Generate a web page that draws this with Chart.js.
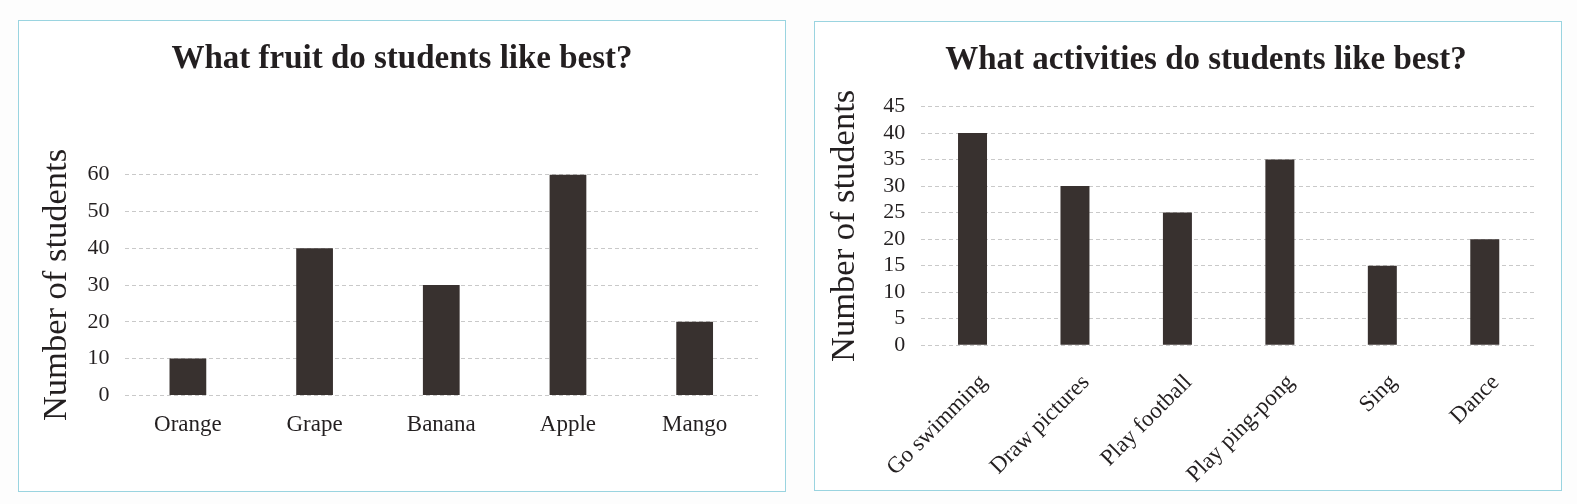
<!DOCTYPE html>
<html>
<head>
<meta charset="utf-8">
<script src="https://cdn.jsdelivr.net/npm/chart.js@4/dist/chart.umd.min.js"></script>
<style>
  html, body { margin: 0; padding: 0; background: #fdfdfd; }
  body { width: 1577px; height: 504px; position: relative; overflow: hidden; }
  .box { position: absolute; border: 1px solid #9ad4e0; background: #ffffff; }
  #box1 { left: 18px; top: 20px; width: 766px; height: 470px; }
  #box2 { left: 814px; top: 21px; width: 746px; height: 468px; }
  canvas { display: block; }
</style>
</head>
<body>
<div class="box" id="box1"><canvas id="c1" width="766" height="470"></canvas></div>
<div class="box" id="box2"><canvas id="c2" width="746" height="468"></canvas></div>
<script>
// ---- data ----
const fruitTitle = "What fruit do students like best?";
const fruitCategories = ["Orange", "Grape", "Banana", "Apple", "Mango"];
const fruitValues = [10, 40, 30, 60, 20];
const fruitTicks = { min: 0, max: 60, step: 10 };

const activityTitle = "What activities do students like best?";
const activityCategories = ["Go swimming", "Draw pictures", "Play football", "Play ping-pong", "Sing", "Dance"];
const activityValues = [40, 30, 25, 35, 15, 20];
const activityTicks = { min: 0, max: 45, step: 5 };

const yAxisTitle = "Number of students";

// ---- styles ----
const FONT = "'Liberation Serif', 'Times New Roman', serif";
const TEXT = "#231f20";
const BAR = "#38312f";
const GRID = "#c9c9c9";

const titleShift = {
  id: 'titleShift',
  afterLayout(chart, args, opts) {
    if (chart.titleBlock && opts && opts.dx) {
      chart.titleBlock.left += opts.dx;
    }
  }
};

function makeChart(id, cfg) {
  return new Chart(document.getElementById(id), {
    type: 'bar',
    data: {
      labels: cfg.labels,
      datasets: [{
        data: cfg.values,
        backgroundColor: BAR,
        borderWidth: 0,
        barPercentage: cfg.barPct,
        categoryPercentage: 1.0
      }]
    },
    plugins: [titleShift],
    options: {
      responsive: false,
      animation: false,
      devicePixelRatio: 1,
      layout: { padding: cfg.layoutPadding },
      plugins: {
        legend: { display: false },
        tooltip: { enabled: false },
        titleShift: { dx: cfg.titleDx },
        title: {
          display: true,
          text: cfg.title,
          color: TEXT,
          font: { family: FONT, size: 33, weight: 'bold', lineHeight: 1.2 },
          padding: cfg.titlePadding
        }
      },
      scales: {
        x: {
          grid: { display: false, drawTicks: false },
          border: { display: false },
          ticks: {
            color: TEXT,
            font: { family: FONT, size: cfg.xFont, lineHeight: 1.2 },
            padding: cfg.xPad,
            minRotation: cfg.rotation,
            maxRotation: cfg.rotation,
            labelOffset: cfg.labelOffset,
            autoSkip: false
          }
        },
        y: {
          min: cfg.ticks.min,
          max: cfg.ticks.max,
          grid: {
            color: GRID,
            lineWidth: 1,
            drawTicks: false
          },
          border: { display: false, dash: [4, 3] },
          ticks: {
            stepSize: cfg.ticks.step,
            autoSkip: false,
            color: TEXT,
            font: { family: FONT, size: 22, lineHeight: 1.0 },
            padding: cfg.yPad
          },
          title: {
            display: true,
            text: yAxisTitle,
            color: TEXT,
            font: { family: FONT, size: 34.5, lineHeight: cfg.yTitleLH },
            padding: cfg.yTitlePadding
          }
        }
      }
    }
  });
}

makeChart('c1', {
  labels: fruitCategories,
  values: fruitValues,
  ticks: fruitTicks,
  title: fruitTitle,
  barPct: 0.29,
  rotation: 0,
  labelOffset: 0,
  xFont: 23,
  xPad: 16,
  yPad: 15,
  layoutPadding: { left: 0, right: 27, top: 0, bottom: 36 },
  titlePadding: { top: 19, bottom: 95 },
  yTitleLH: 0.9,
  yTitlePadding: { top: 22.5, bottom: 0 },
  titleDx: 27
});

makeChart('c2', {
  labels: activityCategories,
  values: activityValues,
  ticks: activityTicks,
  title: activityTitle,
  barPct: 0.283,
  rotation: 45,
  labelOffset: 11,
  xFont: 23,
  xPad: 24,
  yPad: 16,
  layoutPadding: { left: 0, right: 25, top: 0, bottom: -22.5 },
  titlePadding: { top: 19, bottom: 26 },
  yTitleLH: 1.2,
  yTitlePadding: { top: 9.3, bottom: 1.6 },
  titleDx: 61
});
</script>
</body>
</html>
